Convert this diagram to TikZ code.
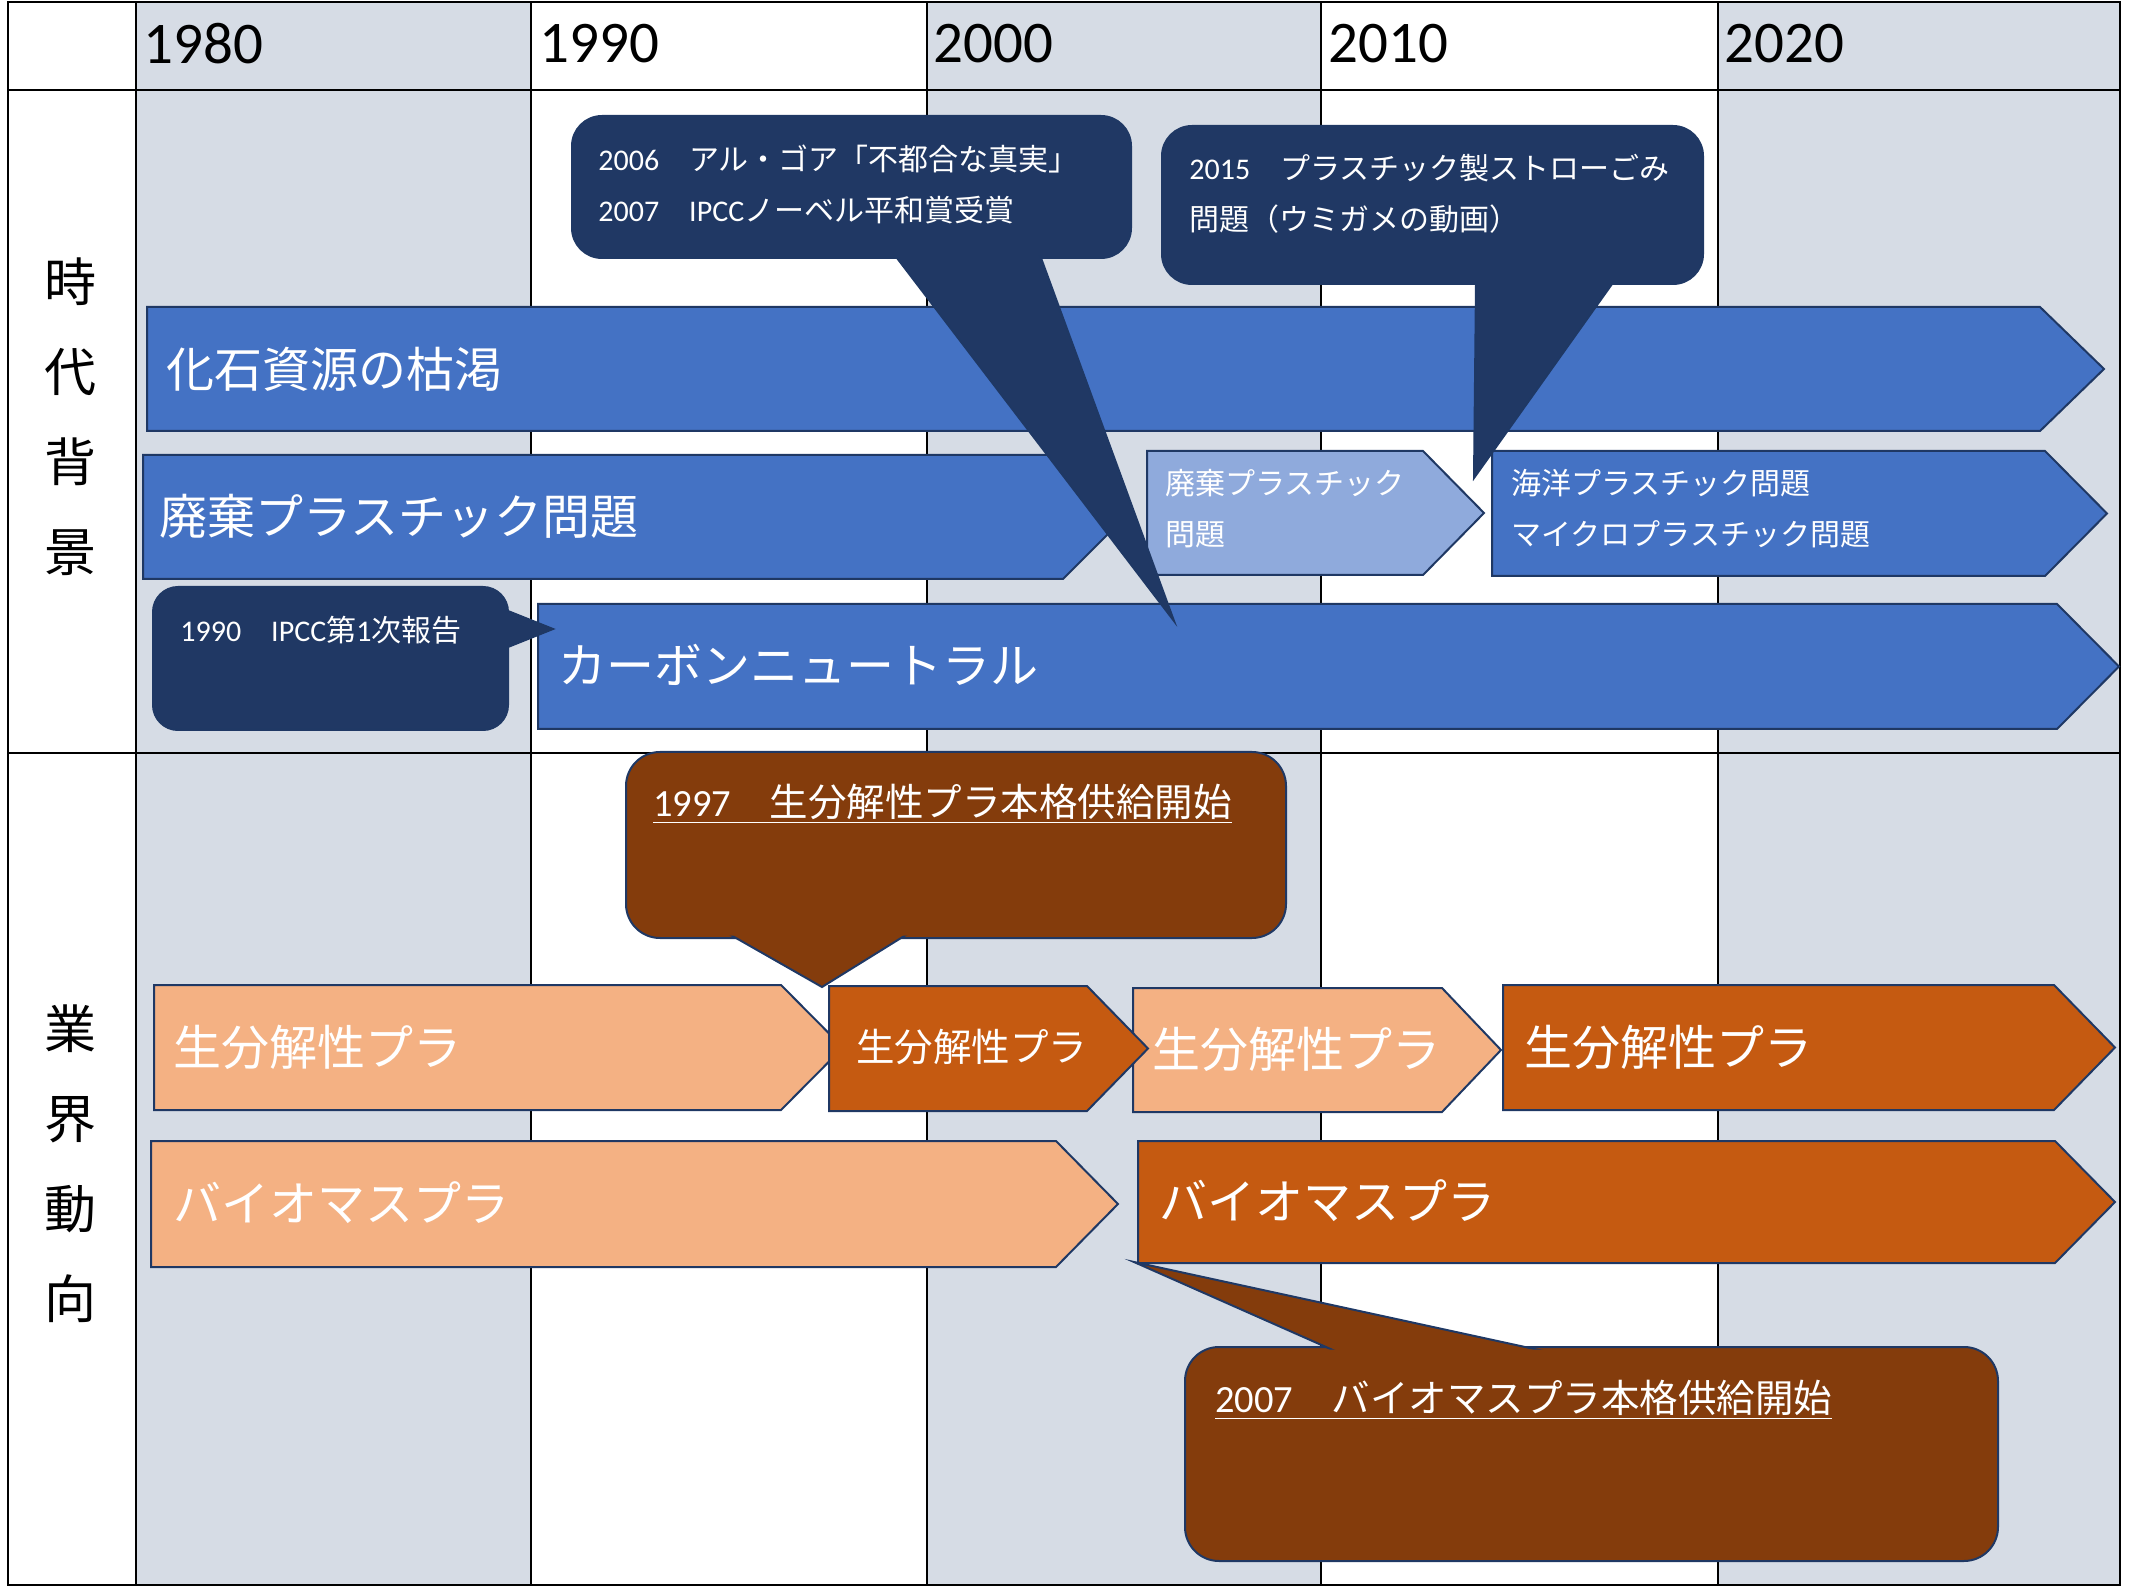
\documentclass[tikz,border=0pt]{standalone}
\usepackage{fontspec}
\setmainfont{Noto Sans CJK JP}
\newfontfamily\lat{Carlito}
\usetikzlibrary{calc}
\definecolor{colgrey}{HTML}{D6DCE5}
\definecolor{barblue}{HTML}{4472C4}
\definecolor{lightblue}{HTML}{8FAADC}
\definecolor{navyfill}{HTML}{203864}
\definecolor{outl}{HTML}{1F3864}
\definecolor{calbrown}{HTML}{843C0C}
\definecolor{orgdark}{HTML}{C55A11}
\definecolor{orglight}{HTML}{F4B183}
\tikzset{
  gridline/.style={draw=black, line width=1.25pt},
  shapeline/.style={draw=outl, line width=1pt},
  bluebar/.style={shapeline, fill=barblue},
  ltbluebar/.style={shapeline, fill=lightblue},
  orgbar/.style={shapeline, fill=orgdark},
  ltorgbar/.style={shapeline, fill=orglight},
  bigtxt/.style={anchor=west, inner sep=0pt, text=white, font=\fontsize{24}{29}\selectfont},
  midtxt/.style={anchor=west, inner sep=0pt, text=white, font=\fontsize{19.25}{23}\selectfont},
  smalltxt/.style={anchor=west, inner sep=0pt, text=white, align=left, font=\fontsize{15}{25.5}\selectfont},
  yeartxt/.style={anchor=west, inner sep=0pt, text=black, font=\lat\fontsize{29.5}{32}\selectfont},
  sidetxt/.style={align=center, inner sep=0pt, text=black, font=\fontsize{26}{45}\selectfont},
}
% home plate: style, x1, y1, shoulder x, y2, tip x
\newcommand\homeplate[6]{\filldraw[#1] (#2,#3) -- (#4,#3) -- (#6,{(#3+#5)/2}) -- (#4,#5) -- (#2,#5) -- cycle;}
% callout: fill, (x1,y1), (x2,y2), radius, base1, tip, base2, extension
\newcommand\callout[8]{%
  \filldraw[fill=#1, shapeline, rounded corners=#4] #2 rectangle #3;
  \filldraw[fill=#1, shapeline] ($#6!#8!#5$) -- #6 -- ($#6!#8!#7$) -- cycle;
  \fill[#1, rounded corners=#4] ($#2+(2.5,2.5)$) rectangle ($#3-(2.5,2.5)$);
}
\begin{document}
\begin{tikzpicture}[x=0.5pt,y=-0.5pt]
\useasboundingbox (0,0) rectangle (2138,1588);
% column shading
\fill[colgrey] (136,2) rectangle (531,1585);
\fill[colgrey] (927,2) rectangle (1321,1585);
\fill[colgrey] (1718,2) rectangle (2120,1585);
% grid
\draw[gridline] (8,2) rectangle (2120,1585);
\foreach \x in {136,531,927,1321,1718} \draw[gridline] (\x,2) -- (\x,1585);
\draw[gridline] (8,90) -- (2120,90);
\draw[gridline] (8,753) -- (2120,753);
% header
\node[yeartxt] (y1980) at (143,44) {1980};
\node[yeartxt] (y1990) at (539,44) {1990};
\node[yeartxt] (y2000) at (933,44) {2000};
\node[yeartxt] (y2010) at (1328,44) {2010};
\node[yeartxt] (y2020) at (1724,44) {2020};
% side labels
\node[sidetxt] (side1) at (70,417) {時\\代\\背\\景};
\node[sidetxt] (side2) at (70,1164) {業\\界\\動\\向};
% upper bars
\homeplate{bluebar}{147}{307}{2040}{431}{2104}
\homeplate{bluebar}{143}{455}{1063}{579}{1125}
\homeplate{ltbluebar}{1147}{451}{1423}{575}{1484}
\homeplate{bluebar}{1492}{451}{2045}{576}{2107}
\homeplate{bluebar}{538}{604}{2057}{729}{2119}
% upper callouts
\callout{navyfill}{(153,587)}{(508,730)}{12.5pt}{(508,611)}{(553,629)}{(508,647)}{1.3}
\callout{navyfill}{(572,116)}{(1131,258)}{15pt}{(897,258)}{(1174,621)}{(1041,258)}{1.06}
\callout{navyfill}{(1162,126)}{(1703,284)}{15pt}{(1476,284)}{(1474,478)}{(1612,284)}{1.12}
% lower bars
\homeplate{ltorgbar}{154}{985}{781}{1110}{843}
\homeplate{ltorgbar}{1133}{988}{1442}{1112}{1501}
\homeplate{orgbar}{829}{986}{1087}{1111}{1148}
\homeplate{orgbar}{1503}{985}{2054}{1110}{2115}
\homeplate{ltorgbar}{151}{1141}{1056}{1267}{1118}
\homeplate{orgbar}{1138}{1141}{2055}{1263}{2115}
% lower callouts
\callout{calbrown}{(626,752)}{(1286,938)}{17pt}{(736,938)}{(822,987)}{(901,938)}{1.25}
\callout{calbrown}{(1185,1347)}{(1998,1561)}{17pt}{(1326,1347)}{(1134,1262)}{(1525,1347)}{1.1}
% texts upper
\node[bigtxt] (t1) at (166,369) {化石資源の枯渇};
\node[bigtxt] (t2) at (159,516) {廃棄プラスチック問題};
\node[smalltxt] (t3) at (1165,509) {廃棄プラスチック\\問題};
\node[smalltxt] (t4) at (1511,509) {海洋プラスチック問題\\マイクロプラスチック問題};
\node[bigtxt] (t5) at (558,665) {カーボンニュートラル};
\node[smalltxt] (cA) at (180,630) {{\lat 1990}　{\lat IPCC}第{\lat 1}次報告};
\node[smalltxt] (cB) at (598,184) {{\lat 2006}　アル・ゴア「不都合な真実」\\{\lat 2007}　{\lat IPCC}ノーベル平和賞受賞};
\node[smalltxt] (cC) at (1189,194) {{\lat 2015}　プラスチック製ストローごみ\\問題（ウミガメの動画）};
% texts lower
\node[bigtxt] (s1) at (173,1047) {生分解性プラ};
\node[midtxt] (s2) at (856,1047) {生分解性プラ};
\node[bigtxt] (s3) at (1152,1049) {生分解性プラ};
\node[bigtxt] (s4) at (1524,1047) {生分解性プラ};
\node[bigtxt] (b1) at (173,1203) {バイオマスプラ};
\node[bigtxt] (b2) at (1159,1201) {バイオマスプラ};
\node[midtxt] (cD) at (653,804) {\underline{{\lat 1997}　生分解性プラ本格供給開始}};
\node[midtxt] (cE) at (1215,1400) {\underline{{\lat 2007}　バイオマスプラ本格供給開始}};
\end{tikzpicture}
\end{document}
